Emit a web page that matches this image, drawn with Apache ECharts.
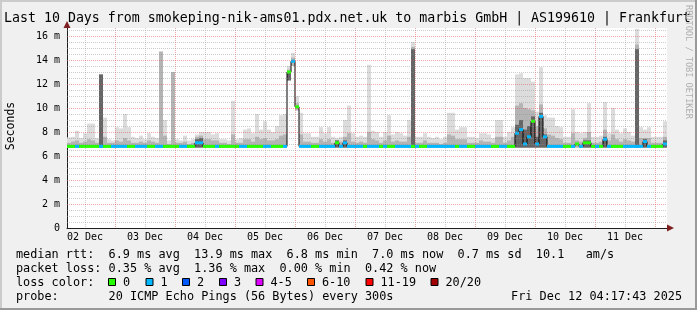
<!DOCTYPE html>
<html><head><meta charset="utf-8">
<script src="https://cdn.jsdelivr.net/npm/echarts@6/dist/echarts.min.js"></script>
<style>html,body{margin:0;padding:0;background:#F0F0F0}#c{width:697px;height:310px}</style>
</head><body><div id="c"></div>
<script>
// ---------------- data ----------------
const titleText = 'Last 10 Days from smokeping-nik-ams01.pdx.net.uk to marbis GmbH | AS199610 | Frankfurt';
const startHour = 4.8;   // hours after 02 Dec 00:00 at the left edge
const colHours = 1.6;    // hours per data column
const dayLabels = ['02 Dec','03 Dec','04 Dec','05 Dec','06 Dec','07 Dec','08 Dec','09 Dec','10 Dec','11 Dec'];
const dayLabelHours = [12,36,60,84,108,132,156,180,204,228];
const xMinorHours = [12,36,60,84,108,132,156,180,204,228];
const xMajorHours = [24,48,72,96,120,144,168,192,216,240];
const yMajor = [2,4,6,8,10,12,14,16];
const yMinor = [0.5,1,1.5,2.5,3,3.5,4.5,5,5.5,6.5,7,7.5,8.5,9,9.5,10.5,11,11.5,12.5,13,13.5,14.5,15,15.5,16.5];
const yMax = 50/3;

const median = [
 6.8,6.8,6.8,6.8,6.8,6.8,6.8,6.8,6.8,6.8,
 6.8,6.8,6.8,6.8,6.8,6.8,6.8,6.8,6.8,6.8,
 6.8,6.8,6.8,6.8,6.8,6.8,6.8,6.8,6.8,6.8,
 6.8,6.8,7.1,7.1,6.8,6.8,6.8,6.8,6.8,6.8,
 6.8,6.8,6.8,6.8,6.8,6.8,6.8,6.8,6.8,6.8,
 6.8,6.8,6.8,6.8,6.8,13.0,13.9,10.1,6.8,6.8,
 6.8,6.8,6.8,6.8,6.8,6.8,6.8,7.1,6.8,7.1,
 6.8,6.8,6.8,6.8,6.8,6.8,6.8,6.8,6.8,6.8,
 6.8,6.8,6.8,6.8,6.8,6.8,6.8,6.8,6.8,6.8,
 6.8,6.8,6.8,6.8,6.8,6.8,6.8,6.8,6.8,6.8,
 6.8,6.8,6.8,6.8,6.8,6.8,6.8,6.8,6.8,6.8,
 6.8,6.8,7.9,8.2,7.0,7.6,8.9,7.0,9.3,7.6,
 6.8,6.8,6.8,6.8,6.8,6.8,6.8,7.0,6.8,7.1,
 7.1,6.8,6.8,6.8,7.4,6.8,6.8,6.8,6.8,6.8,
 6.8,6.8,6.8,6.8,7.2,6.8,6.8,6.8,6.8,7.0
];
const loss = [
 0,0,1,0,0,0,0,0,1,0,
 0,1,1,1,1,0,0,1,1,1,
 0,0,1,1,0,0,0,0,1,1,
 0,0,1,1,0,0,0,1,0,0,
 0,0,0,1,1,0,0,0,0,1,
 1,0,0,0,1,0,1,0,1,1,
 1,0,0,1,1,1,1,0,1,1,
 1,1,1,1,0,1,1,1,0,1,
 0,0,1,1,1,1,0,1,0,0,
 1,1,1,1,1,1,1,0,1,1,
 0,0,1,1,1,1,0,0,1,1,
 0,0,1,1,1,1,0,1,1,1,
 1,1,1,1,0,0,1,0,1,0,
 0,0,1,0,1,1,0,0,0,1,
 1,1,1,1,1,1,0,0,0,1
];
const smokeLo = [
 6.7,6.7,6.7,6.7,6.7,6.7,6.7,6.7,6.7,6.7,
 6.7,6.7,6.7,6.7,6.7,6.7,6.7,6.7,6.7,6.7,
 6.7,6.7,6.7,6.7,6.7,6.7,6.7,6.7,6.7,6.7,
 6.7,6.7,6.7,6.7,6.7,6.7,6.7,6.7,6.7,6.7,
 6.7,6.7,6.7,6.7,6.7,6.7,6.7,6.7,6.7,6.7,
 6.7,6.7,6.7,6.7,6.7,12.3,13.5,9.8,6.7,6.7,
 6.7,6.7,6.7,6.7,6.7,6.7,6.7,6.7,6.7,6.7,
 6.7,6.7,6.7,6.7,6.7,6.7,6.7,6.7,6.7,6.7,
 6.7,6.7,6.7,6.7,6.7,6.7,6.7,6.7,6.7,6.7,
 6.7,6.7,6.7,6.7,6.7,6.7,6.7,6.7,6.7,6.7,
 6.7,6.7,6.7,6.7,6.7,6.7,6.7,6.7,6.7,6.7,
 6.7,6.7,6.7,6.7,6.7,6.7,6.7,6.7,6.7,6.7,
 6.7,6.7,6.7,6.7,6.7,6.7,6.7,6.7,6.7,6.7,
 6.7,6.7,6.7,6.7,6.7,6.7,6.7,6.7,6.7,6.7,
 6.7,6.7,6.7,6.7,6.7,6.7,6.7,6.7,6.7,6.7
];
const smokeHi = [
 7.55,7.6,8.1,7.5,7.9,8.7,8.7,7.5,12.8,9.2,
 7.4,7.3,8.4,8.3,9.5,8.4,7.6,7.5,7.7,7.4,
 7.9,7.6,7.5,14.7,9.0,7.3,13.0,7.4,7.3,7.7,
 7.3,7.4,7.8,8.0,8.0,8.0,7.8,7.9,7.4,7.4,
 7.3,10.6,7.4,7.5,8.2,8.3,7.9,9.5,8.2,8.9,
 8.2,8.0,8.5,9.4,9.5,13.5,14.6,11.0,9.6,7.9,
 7.9,7.6,7.6,8.4,7.9,8.4,7.6,7.5,7.6,9.0,
 10.2,7.9,7.6,7.7,7.6,13.6,8.1,8.0,7.6,8.0,
 9.4,7.8,8.0,7.9,7.7,9.0,15.5,7.6,7.6,7.9,
 7.6,7.5,7.6,7.4,7.6,9.6,9.6,8.2,8.4,8.4,
 7.6,7.6,7.5,7.9,7.9,7.8,7.5,9.0,9.0,7.6,
 8.0,8.4,12.8,12.9,12.5,12.5,12.2,9.7,13.4,9.4,
 9.2,9.2,8.5,8.4,7.6,7.6,9.9,8.0,7.9,8.0,
 10.4,7.6,7.6,7.7,10.5,7.9,10.0,8.2,7.9,8.3,
 8.0,7.7,16.6,8.4,8.2,8.4,7.6,7.6,7.6,8.9
];
const smokeMid = [
 7.1,7.2,7.3,7.1,7.2,7.4,7.3,7.1,9.2,7.6,
 7.1,7.1,7.3,7.2,7.5,7.3,7.1,7.1,7.2,7.1,
 7.3,7.2,7.1,14.7,7.7,7.0,13.0,7.1,7.1,7.2,
 7.0,7.1,7.6,7.7,7.4,7.4,7.3,7.3,7.1,7.1,
 7.0,7.8,7.1,7.1,7.4,7.4,7.2,7.6,7.4,7.5,
 7.3,7.3,7.4,7.7,7.8,13.2,14.2,10.4,7.8,7.2,
 7.2,7.1,7.1,7.4,7.2,7.4,7.1,7.3,7.2,7.6,
 7.9,7.2,7.1,7.2,7.1,8.0,7.4,7.3,7.1,7.3,
 7.7,7.2,7.3,7.2,7.2,7.6,15.1,7.1,7.1,7.3,
 7.1,7.1,7.1,7.0,7.1,7.8,7.7,7.4,7.4,7.4,
 7.1,7.1,7.1,7.3,7.2,7.2,7.1,7.6,7.6,7.1,
 7.3,7.6,10.2,10.4,10.0,9.9,9.8,8.5,10.3,8.3,
 7.8,7.7,7.5,7.4,7.1,7.1,7.9,7.3,7.2,7.5,
 8.0,7.1,7.1,7.2,8.2,7.3,7.8,7.4,7.2,7.4,
 7.3,7.2,15.3,7.5,7.5,7.5,7.1,7.1,7.1,7.6
];
const smokeDark = [
 0,0,0,0,0,0,0,0,12.8,0,
 0,0,0,0,0,0,0,0,0,0,
 0,0,0,0,0,0,0,0,0,0,
 0,0,7.4,7.5,0,0,0,0,0,0,
 0,0,0,0,0,0,0,0,0,0,
 0,0,0,0,0,13.0,0,0,0,0,
 0,0,0,0,0,0,0,7.3,0,7.3,
 0,0,0,0,0,0,0,0,0,0,
 0,0,0,0,0,0,14.9,0,0,0,
 0,0,0,0,0,0,0,0,0,0,
 0,0,0,0,0,0,0,0,0,0,
 0,0,8.6,9.0,8.2,8.5,9.3,7.6,9.6,7.8,
 0,0,0,0,0,0,0,0,0,7.3,
 7.3,0,0,0,7.6,0,0,0,0,0,
 0,0,14.9,0,7.4,0,0,0,0,7.3
];
const lossColors = ['#26ff00','#00b8ff','#0059ff','#7e00ff','#dd00ff','#ff5500','#ff0000','#a10000'];
const lossLabels = ['0','1','2','3','4-5','6-10','11-19','20/20'];
const statLine1 = 'median rtt:  6.9 ms avg  13.9 ms max  6.8 ms min  7.0 ms now  0.7 ms sd  10.1   am/s';
const statLine2 = 'packet loss: 0.35 % avg  1.36 % max  0.00 % min  0.42 % now';
const lossTitle = 'loss color:';
const probeLine = 'probe:       20 ICMP Echo Pings (56 Bytes) every 300s';
const stampText = 'Fri Dec 12 04:17:43 2025';

// ---------------- layout ----------------
const FONT = 'DejaVu Sans Mono';
const LEG = 11.83;
const nCols = median.length;
const endHour = startHour + nCols * colHours;
const chart = echarts.init(document.getElementById('c'), null, {renderer: 'canvas', width: 697, height: 310});

const smokeData = median.map((m, i) => [startHour + i*colHours, startHour + (i+1)*colHours, smokeLo[i], smokeHi[i], smokeMid[i], smokeDark[i]]);
const medData = median.map((m, i) => [startHour + i*colHours, startHour + (i+1)*colHours, m, loss[i]]);
const stepData = median.map((m, i) => [startHour + i*colHours, m]).concat([[endHour, median[nCols-1]]]);
const gridData = [].concat(
  xMinorHours.map(v => [v, 0, 0, 0]),
  xMajorHours.map(v => [v, 0, 0, 1]),
  yMinor.map(v => [startHour, v, 1, 0]),
  yMajor.map(v => [startHour, v, 1, 1])
);

function txt(x, y, text, size, extra, styleExtra) {
  return Object.assign({type: 'text', x: x, y: y, silent: true, z: 100,
    style: Object.assign({text: text, fill: '#000', fontFamily: FONT, fontSize: size, align: 'left', verticalAlign: 'middle'}, styleExtra || {})}, extra || {});
}

const graphics = [
  {type: 'rect', shape: {x: 0, y: 0, width: 697, height: 2}, style: {fill: '#CBCBCB'}, silent: true},
  {type: 'rect', shape: {x: 0, y: 0, width: 2, height: 310}, style: {fill: '#CBCBCB'}, silent: true},
  {type: 'rect', shape: {x: 0, y: 308, width: 697, height: 2}, style: {fill: '#999999'}, silent: true},
  {type: 'rect', shape: {x: 695, y: 0, width: 2, height: 310}, style: {fill: '#999999'}, silent: true},
  txt(4, 18.5, titleText, 13.27),
  txt(11, 126, 'Seconds', 11.5, {rotation: Math.PI/2}, {align: 'center'}),
  txt(688, 5, 'RRDTOOL / TOBI OETIKER', 8.6, {rotation: -Math.PI/2}, {fill: '#b0b0b0'}),
  txt(16, 254.5, statLine1, LEG),
  txt(16, 268.5, statLine2, LEG),
  txt(16, 282.5, lossTitle, LEG),
  txt(16, 296.5, probeLine, LEG),
  txt(682, 296.5, stampText, LEG, null, {align: 'right'})
];
const boxX = [108.5, 146, 182.5, 219.5, 256, 307.5, 366, 431];
lossLabels.forEach((s, i) => {
  graphics.push({type: 'rect', z: 100, silent: true, shape: {x: boxX[i], y: 278.5, width: 7, height: 7}, style: {fill: lossColors[i], stroke: '#000', lineWidth: 1}});
  graphics.push(txt(boxX[i] + 14.5, 282.5, s, LEG));
});

const option = {
  animation: false,
  backgroundColor: '#F0F0F0',
  textStyle: {fontFamily: FONT},
  grid: {left: 67, right: 30, top: 28, bottom: 82, show: true, backgroundColor: '#ffffff', borderWidth: 0},
  xAxis: {
    type: 'value', min: startHour, max: endHour,
    axisLine: {show: true, onZero: false, lineStyle: {color: '#1F1F1F', width: 1}},
    axisTick: {show: false},
    splitLine: {show: false},
    axisLabel: {
      customValues: dayLabelHours, margin: 4, color: '#000', fontFamily: FONT, fontSize: 10,
      formatter: v => { const k = dayLabelHours.indexOf(v); return k >= 0 ? dayLabels[k] : ''; }
    }
  },
  yAxis: {
    type: 'value', min: 0, max: yMax, interval: 2,
    axisLine: {show: true, lineStyle: {color: '#1F1F1F', width: 1}},
    axisTick: {show: false},
    splitLine: {show: false},
    axisLabel: {
      margin: 7, color: '#000', fontFamily: FONT, fontSize: 10,
      formatter: v => (Math.abs(v - Math.round(v)) < 1e-6 && Math.round(v) % 2 === 0) ? (v === 0 ? '0' : v + ' m') : ''
    }
  },
  series: [
    {
      type: 'custom', name: 'smoke', z: 2, clip: true,
      encode: {x: [0, 1], y: [2, 3]},
      data: smokeData,
      renderItem: function (params, api) {
        const t0 = api.value(0), t1 = api.value(1), lo = api.value(2), hi = api.value(3), mid = api.value(4), dk = api.value(5);
        const children = [];
        function add(top, color) {
          if (!(top > lo)) return;
          const a = api.coord([t0, top]), b = api.coord([t1, lo]);
          children.push({type: 'rect', shape: {x: a[0], y: a[1], width: b[0] - a[0], height: b[1] - a[1]}, style: {fill: color}});
        }
        add(hi, '#dcdcdc'); add(mid, '#b4b4b4'); add(dk, '#666666');
        return {type: 'group', children: children};
      }
    },
    {
      type: 'line', name: 'steps', z: 3, data: stepData, step: 'end', symbol: 'none',
      lineStyle: {color: '#000', width: 1}
    },
    {
      type: 'custom', name: 'median', z: 4, clip: true,
      encode: {x: [0, 1], y: 2},
      data: medData,
      renderItem: function (params, api) {
        const t0 = api.value(0), t1 = api.value(1), m = api.value(2), l = api.value(3);
        const a = api.coord([t0, m]), b = api.coord([t1, m]);
        return {type: 'rect', shape: {x: a[0], y: a[1] - 1.5, width: b[0] - a[0], height: 3}, style: {fill: lossColors[l]}};
      }
    },
    {
      type: 'custom', name: 'grid', z: 5, silent: true,
      encode: {x: 0, y: 1},
      data: gridData,
      renderItem: function (params, api) {
        const cs = params.coordSys;
        const v0 = api.value(0), v1 = api.value(1), isY = api.value(2), major = api.value(3);
        const color = major ? 'rgba(222,80,80,0.5)' : 'rgba(143,143,143,0.45)';
        let shape;
        if (isY) {
          const p = api.coord([startHour, v1]);
          const y = Math.round(p[1]) + 0.5;
          shape = {x1: cs.x, y1: y, x2: cs.x + cs.width, y2: y};
        } else {
          const p = api.coord([v0, 0]);
          const x = Math.round(p[0]) + 0.5;
          shape = {x1: x, y1: cs.y, x2: x, y2: cs.y + cs.height};
        }
        return {type: 'line', shape: shape, style: {stroke: color, lineWidth: 1, lineDash: [1, 1]}};
      }
    }
  ],
  graphic: graphics
};
chart.setOption(option);

// axis arrows (rrdtool style), positioned through the axes' own scales
const pEnd = chart.convertToPixel({gridIndex: 0}, [endHour, 0]);
const pTop = chart.convertToPixel({gridIndex: 0}, [startHour, yMax]);
const arrows = [
  {type: 'polygon', z: 100, silent: true, shape: {points: [[pEnd[0], pEnd[1] - 3.5], [pEnd[0] + 7, pEnd[1]], [pEnd[0], pEnd[1] + 3.5]]}, style: {fill: '#7F1F1F'}},
  {type: 'polygon', z: 100, silent: true, shape: {points: [[pTop[0] - 3.5, pTop[1]], [pTop[0], pTop[1] - 7], [pTop[0] + 3.5, pTop[1]]]}, style: {fill: '#7F1F1F'}}
];
chart.setOption({graphic: graphics.concat(arrows)});
</script>
</body></html>
